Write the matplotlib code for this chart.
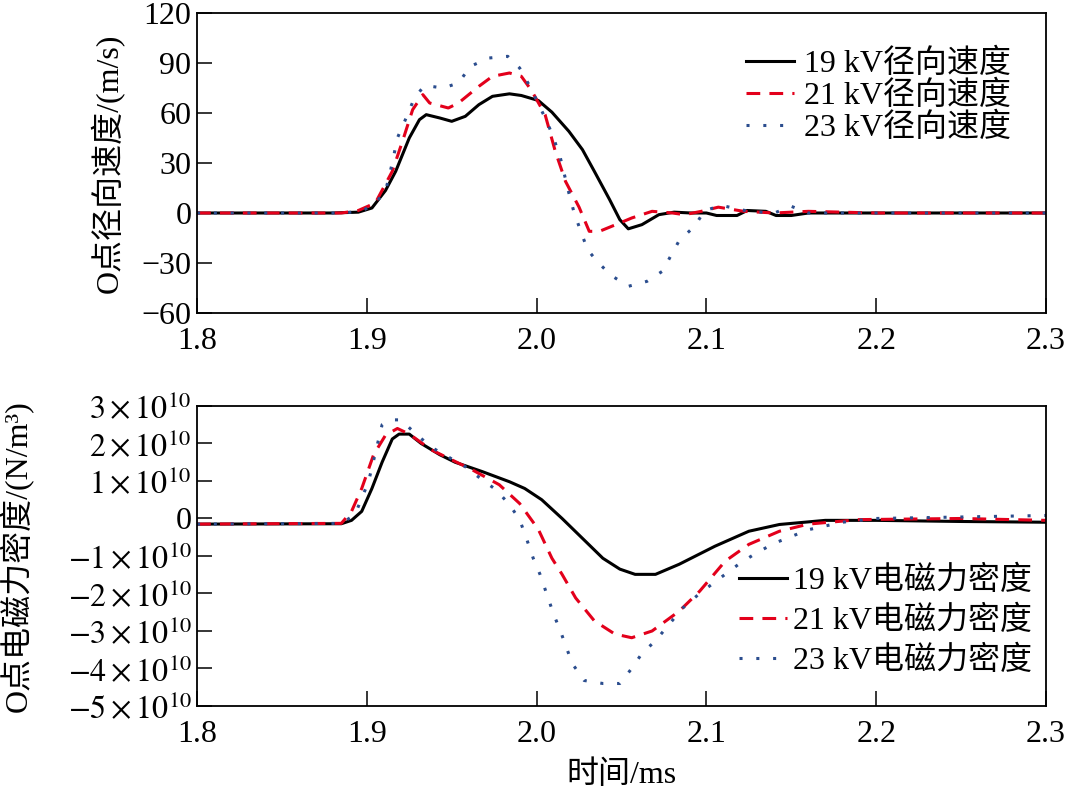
import matplotlib
matplotlib.use("Agg")
import matplotlib.pyplot as plt

plt.rcParams['font.family'] = ['Liberation Serif', 'Noto Sans CJK SC']
plt.rcParams['mathtext.fontset'] = 'stix'
plt.rcParams['axes.unicode_minus'] = True

# ---------------- data: radial velocity (m/s) ----------------
v19_t = [1.80, 1.88, 1.895, 1.903, 1.911, 1.917, 1.925, 1.931, 1.935, 1.943, 1.950, 1.958,
         1.966, 1.974, 1.984, 1.991, 2.001, 2.009, 2.019, 2.027, 2.034, 2.043, 2.049, 2.054,
         2.062, 2.072, 2.081, 2.091, 2.100, 2.106, 2.118, 2.124, 2.135, 2.141, 2.150, 2.160, 2.30]
v19 = [0, 0, 0.5, 3, 13.5, 25, 45, 56, 59, 57, 55, 58,
       65, 70, 71.5, 70.5, 67.5, 60.5, 49, 38, 25, 8, -4, -9.5,
       -7, -1, 0.5, 0, 0, -1.5, -1.5, 1.5, 1, -1.5, -1.5, 0, 0]

v21_t = [1.80, 1.885, 1.895, 1.905, 1.915, 1.921, 1.927, 1.933, 1.937, 1.948, 1.954, 1.966,
         1.974, 1.984, 1.991, 1.997, 2.005, 2.011, 2.017, 2.025, 2.031, 2.037, 2.049, 2.056,
         2.068, 2.080, 2.087, 2.097, 2.107, 2.122, 2.140, 2.160, 2.200, 2.30]
v21 = [0, 0, 1.5, 6, 25, 43, 62, 71, 66, 63, 66, 76,
       82, 84, 82, 73.5, 59, 37, 19, 3.5, -11, -11, -6, -3,
       1, 0, -1, 1, 3.5, 1, 0, 1, 0, 0]

v23_t = [1.80, 1.885, 1.897, 1.905, 1.911, 1.915, 1.918, 1.924, 1.928, 1.934, 1.945, 1.954,
         1.961, 1.972, 1.983, 1.990, 1.996, 2.006, 2.010, 2.014, 2.019, 2.022, 2.026, 2.030,
         2.036, 2.044, 2.054, 2.065, 2.074, 2.084, 2.093, 2.099, 2.109, 2.125, 2.140, 2.150,
         2.160, 2.30]
v23 = [0, 0, 1, 6, 13, 30, 45, 59, 69, 76.5, 75, 78,
       88, 93, 94, 87, 76, 55, 45, 33, 12, 0.5, -11, -22,
       -29.5, -37.5, -44, -41, -35, -16.5, -8, 1.5, 4.5, 1, 0, 4,
       0, 0]

# ---------------- data: electromagnetic force density (x1e10 N/m^3) ----------------
f19_t = [1.80, 1.885, 1.891, 1.897, 1.903, 1.909, 1.915, 1.919, 1.925, 1.932, 1.943, 1.952,
         1.968, 1.984, 1.993, 2.003, 2.015, 2.027, 2.039, 2.049, 2.058, 2.070, 2.084, 2.105,
         2.125, 2.143, 2.170, 2.200, 2.250, 2.30]
f19 = [-0.15, -0.14, -0.05, 0.19, 0.8, 1.5, 2.12, 2.25, 2.25, 2.0, 1.7, 1.5,
       1.25, 0.98, 0.8, 0.5, 0, -0.53, -1.06, -1.35, -1.49, -1.49, -1.22, -0.74,
       -0.34, -0.16, -0.05, -0.05, -0.08, -0.1]

f21_t = [1.80, 1.885, 1.891, 1.897, 1.904, 1.911, 1.918, 1.925, 1.938, 1.962, 1.978, 1.990,
         2.001, 2.009, 2.015, 2.023, 2.034, 2.046, 2.056, 2.068, 2.084, 2.096, 2.111, 2.125,
         2.143, 2.160, 2.190, 2.250, 2.30]
f21 = [-0.15, -0.13, 0.19, 0.8, 1.7, 2.22, 2.4, 2.25, 1.83, 1.3, 0.9, 0.4,
       -0.29, -1.06, -1.49, -2.12, -2.73, -3.08, -3.18, -3.0, -2.47, -1.94, -1.14, -0.69,
       -0.34, -0.15, -0.03, 0, -0.05]

f23_t = [1.80, 1.885, 1.893, 1.901, 1.909, 1.914, 1.920, 1.929, 1.938, 1.958, 1.968, 1.976,
         1.984, 1.990, 1.994, 1.998, 2.002, 2.006, 2.010, 2.014, 2.021, 2.028, 2.039, 2.049,
         2.056, 2.062, 2.070, 2.086, 2.096, 2.111, 2.119, 2.129, 2.140, 2.160, 2.180, 2.200,
         2.30]
f23 = [-0.15, -0.13, 0.1, 0.98, 2.5, 2.63, 2.63, 2.25, 1.9, 1.38, 1.03, 0.77,
       0.37, -0.03, -0.53, -1.06, -1.49, -2.02, -2.55, -3.0, -3.87, -4.32, -4.4, -4.4,
       -4.0, -3.6, -3.26, -2.39, -2.0, -1.49, -1.22, -0.93, -0.66, -0.3, -0.1, 0,
       0.08]

x_ticks = [1.8, 1.9, 2.0, 2.1, 2.2, 2.3]
x_ticklabels = ['1.8', '1.9', '2.0', '2.1', '2.2', '2.3']
v_ticks = [-60, -30, 0, 30, 60, 90, 120]
f_ticks = [-5, -4, -3, -2, -1, 0, 1, 2, 3]
f_ticklabels = [r'$-5\times10^{10}$', r'$-4\times10^{10}$', r'$-3\times10^{10}$',
                r'$-2\times10^{10}$', r'$-1\times10^{10}$', '0',
                r'$1\times10^{10}$', r'$2\times10^{10}$', r'$3\times10^{10}$']

labels_v = ['19 kV径向速度', '21 kV径向速度', '23 kV径向速度']
labels_f = ['19 kV电磁力密度', '21 kV电磁力密度', '23 kV电磁力密度']

black = '#000000'
red = '#e3001b'
blue = '#2b4d8e'
FS = 23

fig = plt.figure(figsize=(10.69, 7.92), dpi=100)
ax1 = fig.add_axes([0.1843, 0.6048, 0.7942, 0.3788])
ax2 = fig.add_axes([0.1843, 0.1086, 0.7942, 0.3788])

def style(ax):
    ax.set_xlim(1.8, 2.3)
    ax.set_xticks(x_ticks)
    ax.set_xticklabels(x_ticklabels)
    ax.tick_params(direction='in', length=11, width=1.1, labelsize=FS,
                   top=False, right=False)
    ax.tick_params(axis='x', pad=10)
    ax.tick_params(axis='y', pad=4)
    for s in ax.spines.values():
        s.set_linewidth(1.3)

ax1.plot(v19_t, v19, color=black, lw=2.2, label=labels_v[0])
ax1.plot(v21_t, v21, color=red, lw=2.2, dashes=(4.5, 3.0), label=labels_v[1])
ax1.plot(v23_t, v23, color=blue, lw=2.2, dashes=(1.0, 4.5), label=labels_v[2])
style(ax1)
ax1.set_ylim(-60, 120)
ax1.set_yticks(v_ticks)
ax1.set_ylabel('O点径向速度/(m/s)', fontsize=FS, labelpad=12)
ax1.legend(loc='upper right', frameon=False, fontsize=FS, handlelength=1.5,
           handletextpad=0.3, labelspacing=0.05, borderaxespad=0.3,
           bbox_to_anchor=(0.985, 0.955))

ax2.plot(f19_t, f19, color=black, lw=2.2, label=labels_f[0])
ax2.plot(f21_t, f21, color=red, lw=2.2, dashes=(4.5, 3.0), label=labels_f[1])
ax2.plot(f23_t, f23, color=blue, lw=2.2, dashes=(1.0, 4.5), label=labels_f[2])
style(ax2)
ax2.set_ylim(-5, 3)
ax2.set_yticks(f_ticks)
ax2.set_yticklabels(f_ticklabels)
ax2.set_ylabel('O点电磁力密度/(N/m³)', fontsize=FS, labelpad=24)
ax2.set_xlabel('时间/ms', fontsize=FS, labelpad=8)
ax2.legend(loc='lower right', frameon=False, fontsize=FS, handlelength=1.5,
           handletextpad=0.2, labelspacing=0.3, borderaxespad=0.3,
           bbox_to_anchor=(1.01, 0.025))

fig.savefig('out.png', dpi=100)
